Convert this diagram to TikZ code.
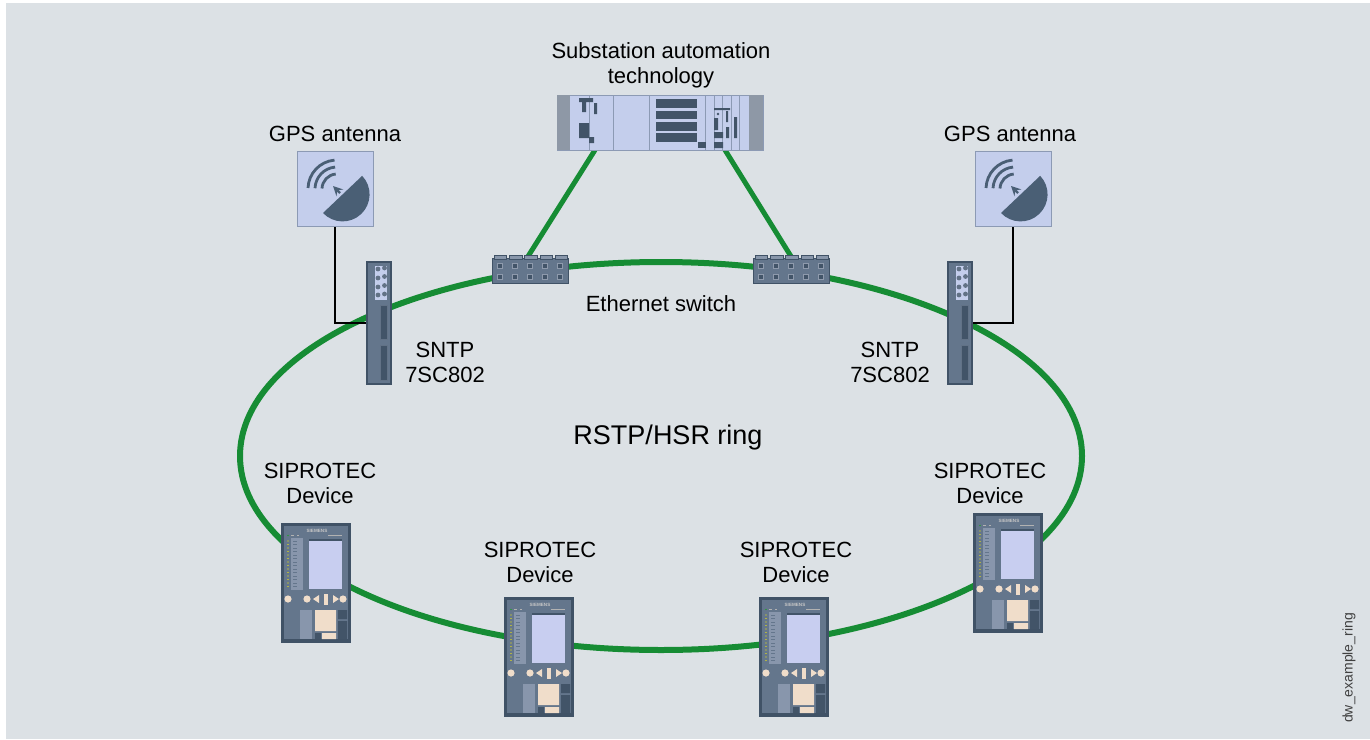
\documentclass[tikz,border=0pt]{standalone}
\usepackage{fontspec}
\setmainfont{Liberation Sans}
\usepackage{xcolor}
\usepackage{tikz}
\usetikzlibrary{calc,backgrounds}

\definecolor{bggray}{RGB}{220,225,229}
\definecolor{ringgreen}{RGB}{22,140,52}
\definecolor{devbody}{RGB}{100,118,140}
\definecolor{devedge}{RGB}{64,82,102}
\definecolor{devdark}{RGB}{66,84,104}
\definecolor{panelblue}{RGB}{196,206,236}
\definecolor{paneledge}{RGB}{140,154,180}
\definecolor{dotgray}{RGB}{98,114,134}
\definecolor{rackgray}{RGB}{142,152,166}
\definecolor{tabgray}{RGB}{136,150,170}
\definecolor{portedge}{RGB}{142,154,172}
\definecolor{cream}{RGB}{240,221,202}
\definecolor{stripgray}{RGB}{136,150,172}
\definecolor{screenblue}{RGB}{200,206,240}
\definecolor{dishblue}{RGB}{74,95,117}

\begin{document}
\begin{tikzpicture}[x=0.5pt,y=-0.5pt,>=stealth,
  lbl/.style={font=\fontsize{11}{12.5}\selectfont,align=center,inner sep=0pt},
  box/.style={inner sep=0pt,outer sep=0pt},
  gps/.style={box,fill=panelblue,draw=paneledge,line width=0.5pt,minimum width=38pt,minimum height=37.5pt},
  sntp/.style={box,fill=devbody,draw=devedge,line width=0.6pt,minimum width=12pt,minimum height=61pt},
  switch/.style={box,fill=devbody,draw=devedge,line width=0.5pt,minimum width=38pt,minimum height=12.5pt},
  rack/.style={box,fill=panelblue,draw=paneledge,line width=0.5pt,minimum width=103pt,minimum height=27.5pt},
  sipro/.style={box,fill=devedge,minimum width=35pt,minimum height=60pt},
  ring/.style={ringgreen,line width=3pt},
  link/.style={ringgreen,line width=2.5pt},
  wire/.style={black,line width=0.8pt}]

\useasboundingbox (0,0) rectangle (1370,739);

% devices
\node[rack] (rack) at (660,122.5) {};
\node[switch] (swL) at (530,270.5) {};
\node[switch] (swR) at (791,270.5) {};
\node[gps] (gpsL) at (335,188.5) {};
\node[gps] (gpsR) at (1013,188.5) {};
\node[sntp] (sntpL) at (379,323) {};
\node[sntp] (sntpR) at (960,323) {};
\node[sipro] (devA) at (316,583) {};
\node[sipro] (devB) at (539,657) {};
\node[sipro] (devC) at (794,657) {};
\node[sipro] (devD) at (1008,573) {};

% rack front
\begin{scope}[shift={(rack.north west)}]
 \fill[rackgray] (0,0) rectangle (13,55);
 \fill[rackgray] (192,0) rectangle (206,55);
 \foreach \x in {32,56,92,148,157,165,174,182}
  \draw[paneledge,line width=0.4pt] (\x,0) -- (\x,55);
 \fill[devdark] (22,3) rectangle (36,7) (25,7) rectangle (29,17) (37,8) rectangle (40,19);
 \fill[devdark] (22,28) rectangle (32,43) (32,42) rectangle (37,48);
 \foreach \y in {4,15.5,27,38}
  \fill[devdark] (99,\y) rectangle (140,\y+8.5);
 \fill[devdark] (141,47) rectangle (149,53);
 \fill[devdark] (157,13) rectangle (173,15) (161,19) circle (1.3);
 \fill[devdark] (169,16) rectangle (171,27) (177,22) rectangle (180,43);
 \fill[devdark] (157,23) rectangle (161,35) (169,32) rectangle (172,43);
 \fill[devdark] (157,37) rectangle (166,43) (157,47) rectangle (166,53);
\end{scope}

% ethernet switches
\foreach \s in {swL,swR}{
 \begin{scope}[shift={(\s.north west)}]
  \foreach \i in {0,...,4}{
   \filldraw[fill=tabgray,draw=devedge,line width=0.3pt] (2+15.3*\i,-2.5) rectangle (14.5+15.3*\i,1);
   \filldraw[fill=devdark,draw=portedge,line width=0.4pt] (5.5+15*\i,5.5) rectangle (10.5+15*\i,10.5);
   \filldraw[fill=devdark,draw=portedge,line width=0.4pt] (5.5+15*\i,16) rectangle (10.5+15*\i,21);
  }
 \end{scope}
}

% GPS antennas
\foreach \g in {gpsL,gpsR}{
 \begin{scope}[shift={(\g.north west)}]
  \fill[dishblue] (26,62) arc[start angle=136.5,end angle=-43.5,radius=27] -- cycle;
  \draw[dishblue,line width=1.1pt,->] (43,42) -- (36,35);
  \foreach \r in {15,22,29}
   \draw[dishblue,line width=1.4pt] ($(40,38)+(182:\r)$) arc[start angle=182,end angle=265,radius=\r];
 \end{scope}
}

% SNTP time servers
\foreach \t in {sntpL,sntpR}{
 \begin{scope}[shift={(\t.north west)}]
  \fill[panelblue] (8,4) rectangle (20,38);
  \foreach \y in {7,16,25,33} \fill[dotgray] (11,\y) circle (2.4);
  \foreach \y in {6,14.5,23.5,32} \fill[dotgray] (17.5,\y) circle (2.4);
  \filldraw[fill=devdark,draw=dotgray,line width=0.3pt] (13.5,43) rectangle (20,77);
  \filldraw[fill=devdark,draw=dotgray,line width=0.3pt] (13.5,83) rectangle (20,118);
 \end{scope}
}

% protection devices
\foreach \d in {devA,devB,devC,devD}{
 \begin{scope}[shift={(\d.north west)}]
  \fill[devbody] (3,3) rectangle (67,116);
  \node[text=gray!45,font=\fontsize{2.3}{3}\selectfont\bfseries,inner sep=0pt] at (36,8) {SIEMENS};
  \draw[gray!60,line width=0.3pt] (47,12.5) -- (61,12.5);
  \fill[green!70!black] (7,12.5) circle (0.7);
  \draw[gray!60,line width=0.3pt] (10,12.5) -- (13,12.5) (16,12.5) -- (18,12.5);
  \fill[stripgray] (10,15) rectangle (22,67);
  \foreach \y in {18,21.5,...,65}{
   \fill[yellow] (7,\y) circle (0.6);
   \draw[devbody,line width=0.3pt] (12,\y) -- (16,\y);
  }
  \fill[screenblue] (28,17) rectangle (61,66);
  \draw[devdark,line width=0.6pt] (28,17) -- (61,17);
  \foreach \x in {7,26,62} \fill[cream] (\x,76) circle (3.6);
  \fill[cream] (32,76) -- (38,72) -- (38,80) -- cycle;
  \fill[cream] (43,70.5) rectangle (47,81.5);
  \fill[cream] (58,76) -- (52,72) -- (52,80) -- cycle;
  \fill[stripgray] (19,87) rectangle (31,116);
  \fill[cream] (34,87) rectangle (55,108) (41,110) rectangle (55,116);
  \fill[devdark] (34,110) rectangle (40,116);
  \fill[devdark] (57,87) rectangle (66,96) (57,98) rectangle (66,116);
 \end{scope}
}

% texts
\node[lbl] (tSub) at (661,65) {Substation automation\\technology};
\node[lbl] (tGpsL) at (335,134) {GPS antenna};
\node[lbl] (tGpsR) at (1010,134) {GPS antenna};
\node[lbl] (tSw) at (661,304) {Ethernet switch};
\node[lbl] (tSntpL) at (445,362) {SNTP\\7SC802};
\node[lbl] (tSntpR) at (890,362) {SNTP\\7SC802};
\node[lbl,font=\fontsize{13.5}{15}\selectfont] (tRing) at (668,438) {RSTP/HSR ring};
\node[lbl] (tDevA) at (320,483) {SIPROTEC\\Device};
\node[lbl] (tDevB) at (540,562) {SIPROTEC\\Device};
\node[lbl] (tDevC) at (796,562) {SIPROTEC\\Device};
\node[lbl] (tDevD) at (990,483) {SIPROTEC\\Device};
\node[font=\fontsize{7}{8}\selectfont,text=black!75,rotate=90,inner sep=0pt] (tTag) at (1349,668) {dw\_example\_ring};

% ring, uplinks and antenna cables behind the devices
\begin{scope}[on background layer]
 \fill[bggray] (6,3) rectangle (1370,739);
 \draw[ring] (661,456) ellipse [x radius=421, y radius=194];
 \draw[link] ($(rack.south west)+(38,0)$) -- ($(swL.north)+(-3,0)$);
 \draw[link] ($(rack.south east)+(-38,0)$) -- ($(swR.north)+(1,0)$);
 \draw[wire] (gpsL.south) |- (sntpL.west);
 \draw[wire] (gpsR.south) |- (sntpR.east);
\end{scope}
\end{tikzpicture}
\end{document}
